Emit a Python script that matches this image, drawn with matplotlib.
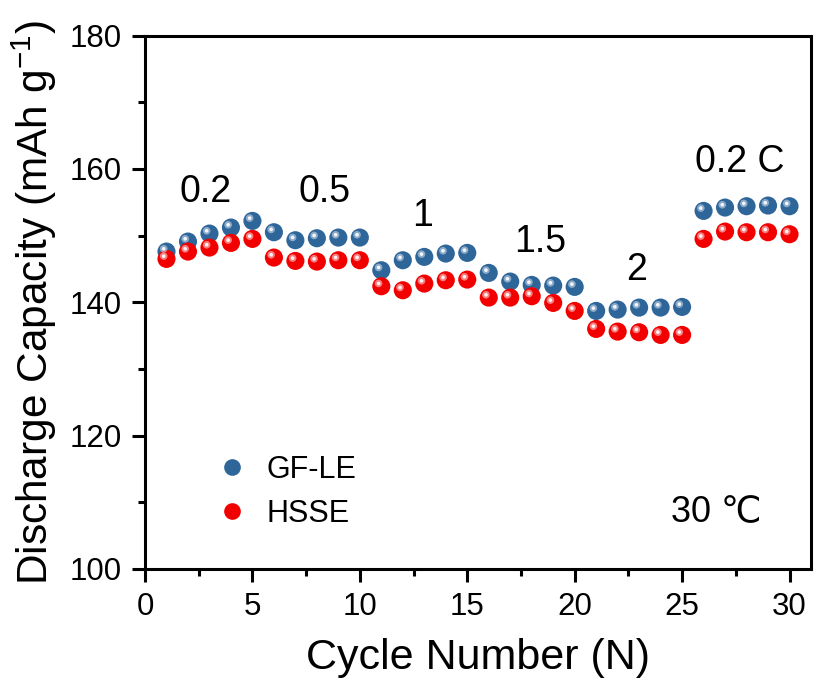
import matplotlib
matplotlib.use("Agg")
import matplotlib.pyplot as plt
import matplotlib.transforms as mtransforms
from matplotlib.lines import Line2D
from matplotlib.legend_handler import HandlerTuple
from matplotlib.ticker import MultipleLocator

plt.rcParams['font.family'] = ['Liberation Sans', 'DejaVu Sans']
plt.rcParams['mathtext.fontset'] = 'custom'
plt.rcParams['mathtext.rm'] = 'Liberation Sans'
plt.rcParams['mathtext.it'] = 'Liberation Sans'

cycles = list(range(1, 31))
gf_le = [147.6, 149.1, 150.3, 151.2, 152.2, 150.5, 149.3, 149.6, 149.7, 149.7,
         144.8, 146.3, 146.8, 147.3, 147.4, 144.4, 143.1, 142.6, 142.5, 142.3,
         138.7, 138.9, 139.2, 139.2, 139.3, 153.7, 154.2, 154.4, 154.5, 154.4]
hsse = [146.5, 147.6, 148.2, 148.9, 149.5, 146.7, 146.2, 146.1, 146.3, 146.3,
        142.4, 141.8, 142.8, 143.3, 143.4, 140.7, 140.7, 140.9, 139.9, 138.7,
        136.0, 135.6, 135.5, 135.1, 135.1, 149.5, 150.6, 150.5, 150.5, 150.2]
series_names = ['GF-LE', 'HSSE']
rate_labels = ['0.2', '0.5', '1', '1.5', '2', '0.2 C']
rate_pos = [(1.62, 155.1), (7.15, 155.1), (12.45, 151.5), (17.2, 147.5), (22.4, 143.4), (25.6, 159.6)]

colors = ['#2f6699', '#f20000']
hi_colors = ['#c9d9ea', '#ffd0d0']

fig = plt.figure(figsize=(8.16, 6.91), dpi=100)
ax = fig.add_axes([145/816, 1 - 569/691, 666/816, 533.5/691])

def sphere(x, y, c, hc):
    ax.scatter(x, y, s=170, color=c, edgecolors='none', zorder=3)
    off = mtransforms.offset_copy(ax.transData, fig=fig, x=-2.0, y=2.0, units='points')
    ax.scatter(x, y, s=30, color=hc, edgecolors='none', zorder=4, alpha=0.6, transform=off)
    ax.scatter(x, y, s=7, color='white', edgecolors='none', zorder=5, alpha=0.9, transform=off)

sphere(cycles, gf_le, colors[0], hi_colors[0])
sphere(cycles, hsse, colors[1], hi_colors[1])

for t, (px, py) in zip(rate_labels, rate_pos):
    ax.text(px, py, t, fontsize=27, ha='left', va='baseline')

ax.text(24.5, 107.1, '30 \u2103', fontsize=26, ha='left', va='baseline',
        family=['Liberation Sans', 'DejaVu Sans'])

ax.set_xlim(0, 31)
ax.set_ylim(100, 180)
ax.xaxis.set_major_locator(MultipleLocator(5))
ax.xaxis.set_minor_locator(MultipleLocator(2.5))
ax.yaxis.set_major_locator(MultipleLocator(20))
ax.yaxis.set_minor_locator(MultipleLocator(10))
ax.tick_params(which='major', direction='out', length=9.4, width=2.2, labelsize=22.5, pad=7)
ax.tick_params(which='minor', direction='out', length=5, width=2.2)
for s in ax.spines.values():
    s.set_linewidth(2.2)

ax.set_xlabel('Cycle Number (N)', fontsize=31, labelpad=12)
ax.set_ylabel('Discharge Capacity (mAh g$^{-1}$)', fontsize=30.5, labelpad=8)

handles = []
for c, hc in zip(colors, hi_colors):
    base = Line2D([], [], marker='o', ls='none', markersize=12, markerfacecolor=c, markeredgecolor='none')
    hi = Line2D([], [], marker='o', ls='none', markersize=4, markerfacecolor='white', markeredgecolor='none', alpha=0.7)
    handles.append((base, hi))
ax.legend(handles, series_names, handler_map={tuple: HandlerTuple(ndivide=None)},
          loc='center left', bbox_to_anchor=(0.082, 0.145), frameon=False, fontsize=22,
          handlelength=1.0, handletextpad=0.3, labelspacing=0.45, borderpad=0.4)

fig.savefig('out.png', dpi=100)
